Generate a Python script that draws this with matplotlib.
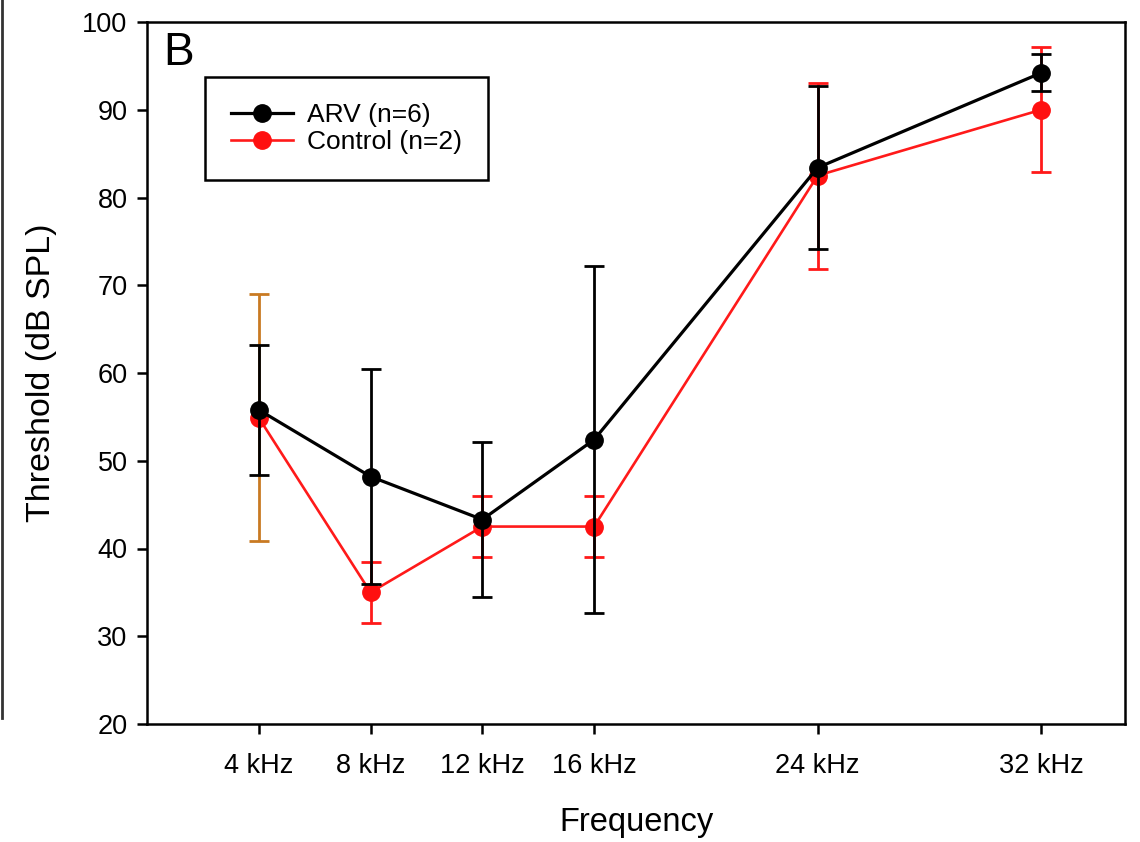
import matplotlib
matplotlib.use("Agg")
import matplotlib.pyplot as plt
from matplotlib.lines import Line2D
import numpy as np

# Auditory brainstem response thresholds by stimulus frequency
freq_khz = [4, 8, 12, 16, 24, 32]
tick_labels = ["4 kHz", "8 kHz", "12 kHz", "16 kHz", "24 kHz", "32 kHz"]

arv_mean = [55.8, 48.2, 43.3, 52.4, 83.4, 94.2]
arv_err = [7.4, 12.2, 8.8, 19.8, 9.3, 2.1]

ctrl_mean = [54.9, 35.0, 42.5, 42.5, 82.5, 90.0]
ctrl_err = [14.1, 3.5, 3.5, 3.5, 10.6, 7.1]

arv_label = "ARV (n=6)"
ctrl_label = "Control (n=2)"

plt.rcParams["font.family"] = ["Liberation Sans", "DejaVu Sans"]

fig = plt.figure(figsize=(11.4, 8.42), dpi=100)
ax = fig.add_axes([147 / 1140, 118 / 842, 978 / 1140, 702 / 842])

x = np.array(freq_khz, dtype=float)
cm = np.array(ctrl_mean)
ce = np.array(ctrl_err)

LW = 2.0
CAP = 7.2

# Control group: the 4 kHz bar is drawn in orange, the rest in red
ax.errorbar(x[1:], cm[1:], yerr=ce[1:], fmt="none", ecolor="#ff1a1a",
            elinewidth=LW, capsize=CAP, capthick=LW, zorder=2)
ax.errorbar(x[:1], cm[:1], yerr=ce[:1], fmt="none", ecolor="#c97a22",
            elinewidth=LW, capsize=CAP, capthick=LW, zorder=2)
ax.plot(x, cm, color="#ff1a1a", lw=1.9, marker="o", ms=12.5,
        mfc="#ff1010", mec="#ff1010", zorder=3, label=ctrl_label)

# ARV group
ax.errorbar(x, arv_mean, yerr=arv_err, fmt="none", ecolor="black",
            elinewidth=LW, capsize=CAP, capthick=LW, zorder=4)
ax.plot(x, arv_mean, color="black", lw=2.3, marker="o", ms=12.5,
        mfc="black", mec="black", zorder=5, label=arv_label)

ax.set_xlim(0, 35)
ax.set_ylim(20, 100)
ax.set_xticks(freq_khz)
ax.set_xticklabels(tick_labels)
ax.set_yticks(np.arange(20, 101, 10))

for s in ax.spines.values():
    s.set_linewidth(1.8)
ax.tick_params(axis="both", direction="out", length=7, width=1.8,
               top=False, right=False, labelsize=19.5)
ax.tick_params(axis="x", pad=14)
ax.tick_params(axis="y", pad=7)

ax.set_xlabel("Frequency", fontsize=23.5)
ax.xaxis.set_label_coords(0.5, -0.118)
ax.set_ylabel("Threshold (dB SPL)", fontsize=24.5)
ax.yaxis.set_label_coords(-0.092, 0.5)

ax.text(0.017, 0.987, "B", transform=ax.transAxes, fontsize=33,
        ha="left", va="top")

handles, labels = ax.get_legend_handles_labels()
order = [1, 0]
leg = ax.legend([handles[i] for i in order], [labels[i] for i in order],
                loc="upper left", bbox_to_anchor=(0.059, 0.921),
                borderaxespad=0, fancybox=False, framealpha=1,
                edgecolor="black", fontsize=19, handlelength=2.35,
                handletextpad=0.55, borderpad=0.98, labelspacing=0.12)
leg.get_frame().set_linewidth(1.8)

# Edge of the neighbouring panel at the far left
fig.add_artist(Line2D([1.5 / 1140, 1.5 / 1140], [1.0, (842 - 718) / 842],
                      transform=fig.transFigure, color="#333333", lw=2))

fig.savefig("out.png", dpi=100)
